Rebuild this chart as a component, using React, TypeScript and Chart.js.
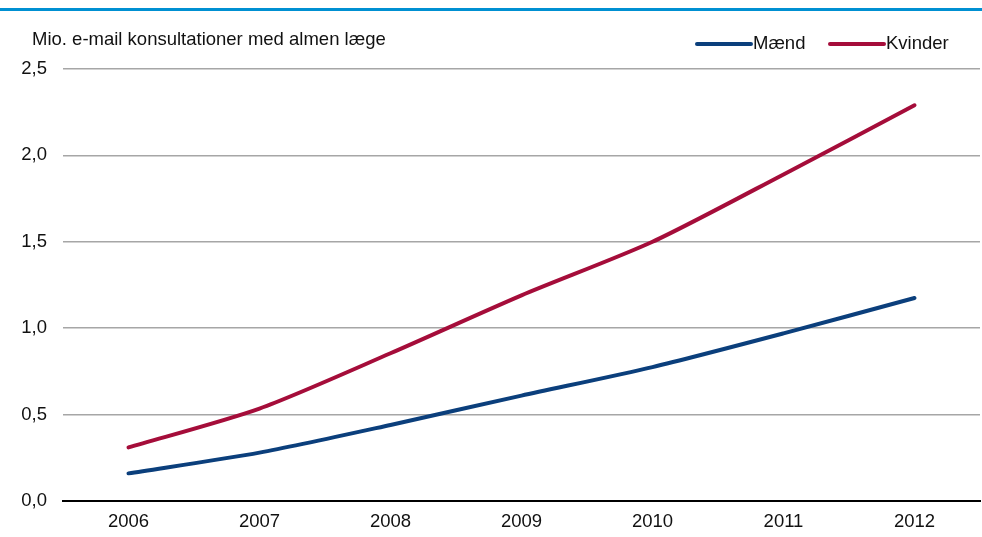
import React, { useEffect, useRef } from "react";
import { Chart, registerables } from "chart.js";

Chart.register(...registerables);

const years = ["2006", "2007", "2008", "2009", "2010", "2011", "2012"];
const maend = [0.16, 0.28, 0.44, 0.61, 0.775, 0.97, 1.175];
const kvinder = [0.31, 0.535, 0.855, 1.19, 1.5, 1.89, 2.29];
const yTitle = "Mio. e-mail konsultationer med almen læge";
const seriesNames = ["Mænd", "Kvinder"];
const colors = ["#0b3f7c", "#a50d3a"];

const FONT = "'Liberation Sans', Arial, sans-serif";
const FS = 18.5;

export default function App() {
  const ref = useRef<HTMLCanvasElement | null>(null);
  useEffect(() => {
    if (!ref.current) return;
    const decor = {
      id: "decor",
      afterDraw(chart: any) {
        const ctx = chart.ctx;
        ctx.save();
        ctx.fillStyle = "#0090d2";
        ctx.fillRect(0, 8, chart.width, 3);
        ctx.fillStyle = "#111";
        ctx.font = `${FS}px ${FONT}`;
        ctx.textBaseline = "middle";
        ctx.textAlign = "left";
        ctx.fillText(yTitle, 32, 40);
        const items = [
          { x: 697, label: seriesNames[0], c: colors[0] },
          { x: 830, label: seriesNames[1], c: colors[1] },
        ];
        items.forEach((it) => {
          ctx.strokeStyle = it.c;
          ctx.lineWidth = 4;
          ctx.lineCap = "round";
          ctx.beginPath();
          ctx.moveTo(it.x, 44);
          ctx.lineTo(it.x + 54, 44);
          ctx.stroke();
          ctx.fillStyle = "#111";
          ctx.fillText(it.label, it.x + 56, 44);
        });
        ctx.restore();
      },
    };
    const chart = new Chart(ref.current, {
      type: "line",
      data: {
        labels: years,
        datasets: [
          {
            label: seriesNames[0],
            data: maend,
            borderColor: colors[0],
            backgroundColor: colors[0],
            borderWidth: 4,
            pointRadius: 0,
            tension: 0.25,
            borderCapStyle: "round",
          },
          {
            label: seriesNames[1],
            data: kvinder,
            borderColor: colors[1],
            backgroundColor: colors[1],
            borderWidth: 4,
            pointRadius: 0,
            tension: 0.25,
            borderCapStyle: "round",
          },
        ],
      },
      options: {
        animation: false,
        responsive: false,
        layout: { padding: { top: 69, right: 2, left: 0, bottom: 0 } },
        plugins: { legend: { display: false }, tooltip: { enabled: false } },
        scales: {
          x: {
            offset: true,
            grid: { display: false, drawTicks: false },
            border: { color: "#000", width: 2 },
            ticks: { color: "#111", font: { family: FONT, size: FS }, padding: 10, maxRotation: 0 },
            afterFit: (s: any) => { s.height = 36; },
          },
          y: {
            min: 0,
            max: 2.5,
            grid: { color: "#a6a6a6", lineWidth: 1.5, drawTicks: false },
            border: { display: false },
            ticks: {
              stepSize: 0.5,
              color: "#111",
              font: { family: FONT, size: FS },
              padding: 16,
              callback: (v: any) => Number(v).toFixed(1).replace(".", ","),
            },
            afterFit: (s: any) => { s.width = 63; },
          },
        },
      },
      plugins: [decor],
    });
    return () => chart.destroy();
  }, []);
  return (
    <div style={{ position: "fixed", left: 0, top: 0, width: 982, height: 537, background: "#fff" }}>
      <canvas ref={ref} width={982} height={537} style={{ display: "block" }} />
    </div>
  );
}
